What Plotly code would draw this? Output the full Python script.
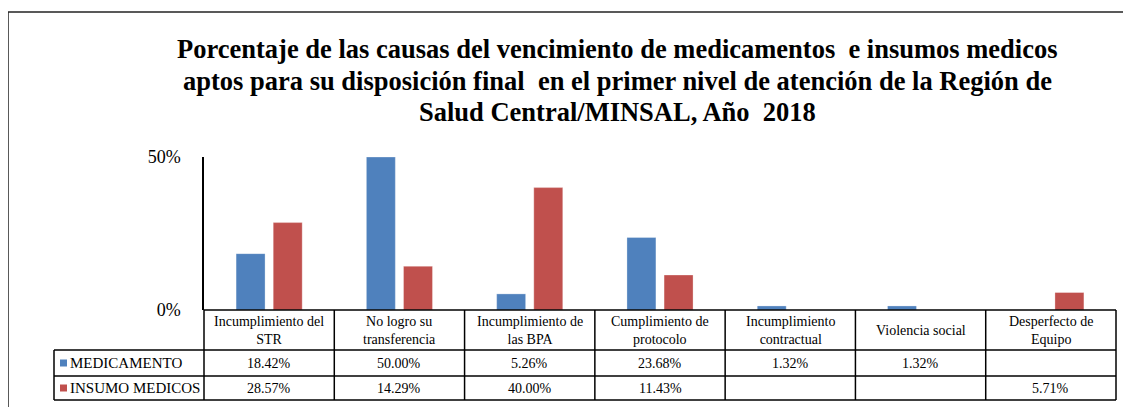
import plotly.graph_objects as go

# ---- data ----
categories = ["Incumplimiento del<br>STR", "No logro su<br>transferencia", "Incumplimiento de<br>las BPA",
              "Cumplimiento de<br>protocolo", "Incumplimiento<br>contractual", "Violencia social",
              "Desperfecto de<br>Equipo"]
series_names = ["MEDICAMENTO", "INSUMO MEDICOS"]
medicamento = [18.42, 50.00, 5.26, 23.68, 1.32, 1.32, None]
insumo_medicos = [28.57, 14.29, 40.00, 11.43, None, None, 5.71]
y_tick_vals = [0, 50]
series_colors = ["#4F81BD", "#C0504D"]

title_lines = ["Porcentaje de las causas del vencimiento de medicamentos  e insumos medicos",
               "aptos para su disposición final  en el primer nivel de atención de la Región de",
               "Salud Central/MINSAL, Año  2018"]

# ---- layout geometry (page pixels; page body has an 8px margin) ----
OFF = 8
W, H = 1131 - OFF, 407 - OFF
L, R, T, B = 204, 1116, 157, 310
FONT = '"Liberation Serif", "Times New Roman", serif'


def px(x):
    return (x - L) / (R - L)


def py(y):
    return (B - y) / (B - T)


series = [medicamento, insumo_medicos]
xs = list(range(len(categories)))

fig = go.Figure()
for name, vals, col in zip(series_names, series, series_colors):
    fig.add_trace(go.Bar(
        x=xs, y=[None if v is None else v / 100 for v in vals], name=name,
        marker=dict(color=col, line=dict(color="rgba(255,255,255,0.6)", width=0.5)),
        showlegend=False,
    ))

shapes = []
line = dict(color="black", width=1.5)
# outer chart border (left and top)
shapes.append(dict(type="line", xref="paper", yref="paper", x0=px(8), x1=px(8), y0=py(12), y1=py(420),
                   line=dict(color="#222", width=1.5)))
shapes.append(dict(type="line", xref="paper", yref="paper", x0=px(8), x1=px(1140), y0=py(12), y1=py(12),
                   line=dict(color="#222", width=1.5)))
# table horizontal lines
shapes.append(dict(type="line", xref="paper", yref="paper", x0=px(L), x1=px(R), y0=py(310), y1=py(310), line=line))
for yy in [350, 376, 400]:
    shapes.append(dict(type="line", xref="paper", yref="paper", x0=px(54), x1=px(R), y0=py(yy), y1=py(yy), line=line))
# table vertical lines
shapes.append(dict(type="line", xref="paper", yref="paper", x0=px(54), x1=px(54), y0=py(350), y1=py(400), line=line))
ncat = len(categories)
for i in range(ncat + 1):
    xx = i / ncat
    shapes.append(dict(type="line", xref="paper", yref="paper", x0=xx, x1=xx, y0=py(310), y1=py(400), line=line))
# legend keys
for j, col in enumerate(series_colors):
    yc = 363 + 25 * j
    shapes.append(dict(type="rect", xref="paper", yref="paper", x0=px(60), x1=px(67), y0=py(yc - 3.5), y1=py(yc + 3.5),
                       fillcolor=col, line=dict(width=0)))

annotations = []
# title, one annotation per line
for k, txt in enumerate(title_lines):
    annotations.append(dict(xref="paper", yref="paper", x=px(617), y=py(49 + 31.5 * k), text=f"<b>{txt}</b>",
                            showarrow=False, xanchor="center", yanchor="middle",
                            font=dict(family=FONT, size=26.5, color="black")))
tfont = dict(family=FONT, size=14, color="black")
for i, cat in enumerate(categories):
    xc = (i + 0.5) / ncat
    annotations.append(dict(xref="paper", yref="paper", x=xc, y=py(330), text=cat, showarrow=False,
                            font=tfont, xanchor="center", yanchor="middle", align="center"))
    for j, vals in enumerate(series):
        v = vals[i]
        if v is not None:
            annotations.append(dict(xref="paper", yref="paper", x=xc, y=py(363 + 25 * j), text=f"{v:.2f}%",
                                    showarrow=False, font=tfont, xanchor="center", yanchor="middle"))
for j, name in enumerate(series_names):
    annotations.append(dict(xref="paper", yref="paper", x=px(68), y=py(363 + 25 * j), text=name, showarrow=False,
                            font=dict(family=FONT, size=15, color="black"), xanchor="left", yanchor="middle"))

fig.update_layout(
    width=W, height=H,
    margin=dict(l=L - OFF, r=1131 - R, t=T - OFF, b=407 - B),
    paper_bgcolor="white", plot_bgcolor="white",
    barmode="group", bargap=0.43, bargroupgap=0.22,
    xaxis=dict(range=[-0.5, ncat - 0.5], showticklabels=False, showgrid=False, zeroline=False,
               showline=False, ticks=""),
    yaxis=dict(range=[0, 0.5], tickvals=[v / 100 for v in y_tick_vals], tickformat=".0%",
               showgrid=False, zeroline=False, showline=True, linecolor="black", linewidth=1.5,
               ticks="", ticklabelstandoff=18, tickfont=dict(family=FONT, size=18, color="black")),
    shapes=shapes, annotations=annotations,
)

fig.write_html("out.html")
